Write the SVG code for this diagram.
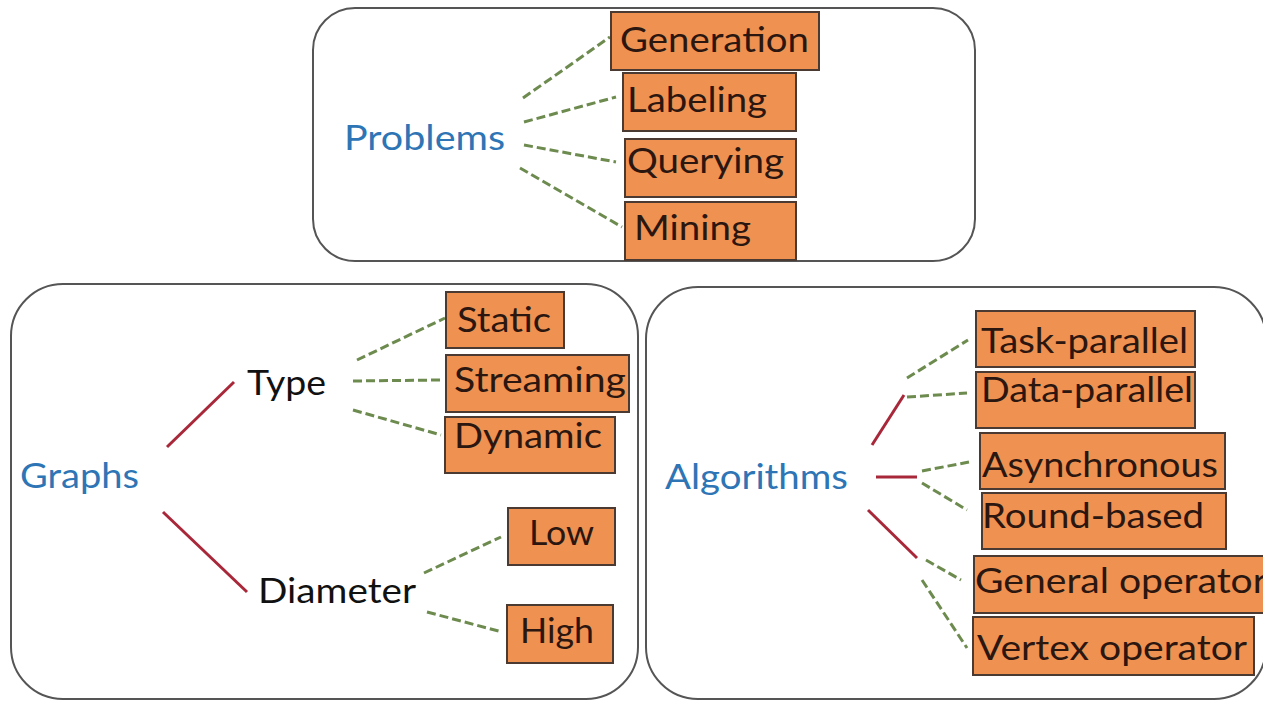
<svg xmlns="http://www.w3.org/2000/svg" width="1263" height="701" viewBox="0 0 1263 701">
  <style>
    .panel { fill: #ffffff; stroke: #555555; stroke-width: 2; }
    .leaf rect { fill: #ef9150; stroke: #4a3a32; stroke-width: 2; }
    .leaf text { font-family: Lato, "Open Sans", "Liberation Sans", sans-serif; font-size: 35px; fill: #2b1610; }
    .head { font-family: Lato, "Open Sans", "Liberation Sans", sans-serif; font-size: 35px; fill: #2e75b6; }
    .mid { font-family: Lato, "Open Sans", "Liberation Sans", sans-serif; font-size: 35px; fill: #111111; }
    .dash { stroke: #6d8b4f; stroke-width: 3; stroke-dasharray: 9 4; fill: none; }
    .solid { stroke: #a8283a; stroke-width: 3; fill: none; }
  </style>

  <!-- panels -->
  <rect id="panel-problems" class="panel" x="313" y="8" width="662" height="253" rx="42"/>
  <rect id="panel-graphs" class="panel" x="11" y="284" width="627" height="415" rx="52"/>
  <rect id="panel-algorithms" class="panel" x="646" y="287" width="620" height="412" rx="52"/>

  <!-- connectors -->
  <g id="connectors">
    <!-- Problems -->
    <line class="dash" x1="523" y1="98" x2="610" y2="37"/>
    <line class="dash" x1="524" y1="122" x2="616" y2="97"/>
    <line class="dash" x1="524" y1="145" x2="616" y2="162"/>
    <line class="dash" x1="520" y1="168" x2="622" y2="227"/>
    <!-- Graphs -->
    <line class="solid" x1="167" y1="447" x2="234" y2="382"/>
    <line class="solid" x1="163" y1="512" x2="247" y2="592"/>
    <line class="dash" x1="357" y1="360" x2="445" y2="318"/>
    <line class="dash" x1="353" y1="381" x2="441" y2="380"/>
    <line class="dash" x1="353" y1="410" x2="441" y2="435"/>
    <line class="dash" x1="424" y1="573" x2="501" y2="537"/>
    <line class="dash" x1="427" y1="612" x2="502" y2="632"/>
    <!-- Algorithms -->
    <line class="solid" x1="872" y1="445" x2="904" y2="395"/>
    <line class="solid" x1="876" y1="477" x2="917" y2="477"/>
    <line class="solid" x1="868" y1="510" x2="917" y2="558"/>
    <line class="dash" x1="907" y1="378" x2="968" y2="340"/>
    <line class="dash" x1="907" y1="397" x2="967" y2="393"/>
    <line class="dash" x1="922" y1="471" x2="969" y2="462"/>
    <line class="dash" x1="922" y1="483" x2="967" y2="510"/>
    <line class="dash" x1="926" y1="560" x2="961" y2="580"/>
    <line class="dash" x1="922" y1="580" x2="967" y2="648"/>
  </g>

  <!-- Problems -->
  <g id="problems"><text class="head" x="344" y="150" textLength="161" lengthAdjust="spacingAndGlyphs">Problems</text></g>
  <g id="generation" class="leaf"><rect x="611" y="12" width="208" height="58"/><text x="620" y="52" textLength="189" lengthAdjust="spacingAndGlyphs">Generation</text></g>
  <g id="labeling" class="leaf"><rect x="623" y="73" width="173" height="58"/><text x="627" y="112" textLength="140" lengthAdjust="spacingAndGlyphs">Labeling</text></g>
  <g id="querying" class="leaf"><rect x="625" y="139" width="171" height="58"/><text x="627" y="173" textLength="157" lengthAdjust="spacingAndGlyphs">Querying</text></g>
  <g id="mining" class="leaf"><rect x="625" y="202" width="171" height="58"/><text x="634" y="240" textLength="117" lengthAdjust="spacingAndGlyphs">Mining</text></g>

  <!-- Graphs -->
  <g id="graphs"><text class="head" x="20" y="488" textLength="119" lengthAdjust="spacingAndGlyphs">Graphs</text></g>
  <g id="type"><text class="mid" x="247" y="395" textLength="79" lengthAdjust="spacingAndGlyphs">Type</text></g>
  <g id="diameter"><text class="mid" x="258" y="603" textLength="158" lengthAdjust="spacingAndGlyphs">Diameter</text></g>
  <g id="static" class="leaf"><rect x="446" y="292" width="118" height="56"/><text x="457" y="332" textLength="94" lengthAdjust="spacingAndGlyphs">Static</text></g>
  <g id="streaming" class="leaf"><rect x="446" y="355" width="183" height="57"/><text x="454" y="392" textLength="172" lengthAdjust="spacingAndGlyphs">Streaming</text></g>
  <g id="dynamic" class="leaf"><rect x="445" y="417" width="170" height="56"/><text x="454" y="448" textLength="148" lengthAdjust="spacingAndGlyphs">Dynamic</text></g>
  <g id="low" class="leaf"><rect x="508" y="508" width="107" height="57"/><text x="529" y="545" textLength="65" lengthAdjust="spacingAndGlyphs">Low</text></g>
  <g id="high" class="leaf"><rect x="507" y="605" width="106" height="58"/><text x="520" y="643" textLength="74" lengthAdjust="spacingAndGlyphs">High</text></g>

  <!-- Algorithms -->
  <g id="algorithms"><text class="head" x="665" y="489" textLength="183" lengthAdjust="spacingAndGlyphs">Algorithms</text></g>
  <g id="task-parallel" class="leaf"><rect x="976" y="311" width="219" height="56"/><text x="981" y="353" textLength="207" lengthAdjust="spacingAndGlyphs">Task-parallel</text></g>
  <g id="data-parallel" class="leaf"><rect x="976" y="372" width="219" height="56"/><text x="981" y="402" textLength="212" lengthAdjust="spacingAndGlyphs">Data-parallel</text></g>
  <g id="asynchronous" class="leaf"><rect x="980" y="433" width="245" height="56"/><text x="982" y="477" textLength="236" lengthAdjust="spacingAndGlyphs">Asynchronous</text></g>
  <g id="round-based" class="leaf"><rect x="982" y="493" width="244" height="56"/><text x="982" y="528" textLength="222" lengthAdjust="spacingAndGlyphs">Round-based</text></g>
  <g id="general-operator" class="leaf"><rect x="974" y="556" width="300" height="57"/><text x="975" y="593" textLength="292" lengthAdjust="spacingAndGlyphs">General operator</text></g>
  <g id="vertex-operator" class="leaf"><rect x="973" y="617" width="281" height="58"/><text x="977" y="660" textLength="270" lengthAdjust="spacingAndGlyphs">Vertex operator</text></g>
</svg>
